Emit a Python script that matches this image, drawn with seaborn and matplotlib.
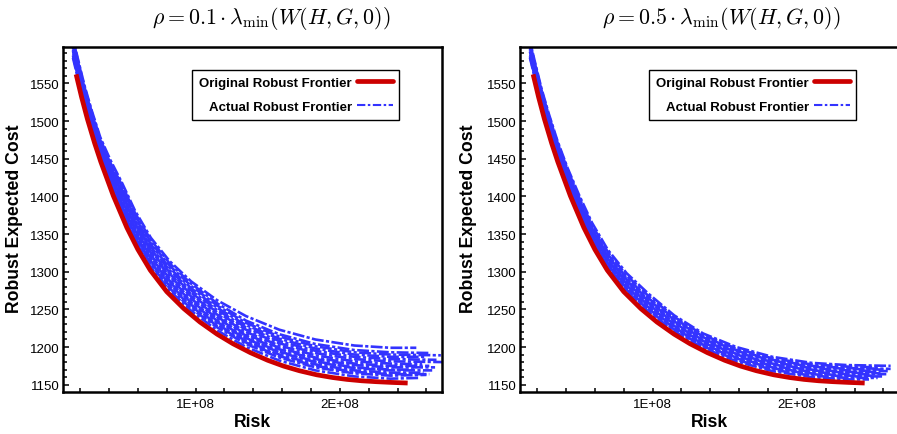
import numpy as np
import pandas as pd
import matplotlib
matplotlib.use("Agg")
import matplotlib.pyplot as plt
from matplotlib.lines import Line2D
from matplotlib.ticker import MultipleLocator, FixedLocator, FixedFormatter
import seaborn as sns

# ---------------- data (risk in units of 1E+08) ----------------
titles = [r"$\rho = 0.1 \cdot \lambda_{\min}(W(H,G,0))$",
          r"$\rho = 0.5 \cdot \lambda_{\min}(W(H,G,0))$"]
x_label = "Risk"
y_label = "Robust Expected Cost"
legend_labels = ["Original Robust Frontier", "Actual Robust Frontier"]
xtick_values = [1.0, 2.0]
xtick_labels = ["1E+08", "2E+08"]
ytick_values = [1150, 1200, 1250, 1300, 1350, 1400, 1450, 1500, 1550]

# original robust frontier (same in both panels)
red_risk = [0.172, 0.21, 0.25, 0.30, 0.343, 0.43, 0.524, 0.60, 0.686, 0.80, 0.918,
            1.03, 1.149, 1.26, 1.38, 1.50, 1.61, 1.72, 1.84, 1.95, 2.05, 2.15,
            2.25, 2.36, 2.47]
red_cost = [1562, 1531.6, 1502.8, 1470.8, 1445.9, 1400.7, 1358.4, 1329.5, 1302,
            1273.5, 1251.1, 1233.2, 1217.1, 1204.3, 1192.5, 1182.4, 1174.7, 1168.5,
            1163.1, 1159.5, 1157, 1155.2, 1154, 1153, 1152.2]

# actual robust frontiers: common risk grid + individual end points
blue_grid = [0.15, 0.19, 0.23, 0.28, 0.34, 0.41, 0.49, 0.58, 0.69, 0.82, 0.97,
             1.15, 1.35, 1.58, 1.83, 2.10, 2.35]

blue_cost_01 = [
    [1584, 1552, 1521, 1488, 1452, 1416, 1379, 1342, 1306, 1275, 1248, 1222, 1200, 1182, 1169, 1161, 1158],
    [1587, 1555, 1524, 1491, 1455, 1419, 1382, 1345, 1309, 1278, 1251, 1226, 1204, 1186, 1173, 1165, 1162],
    [1589, 1557, 1526, 1493, 1457, 1421, 1385, 1348, 1312, 1281, 1254, 1228, 1206, 1188, 1175, 1167, 1164],
    [1591, 1559, 1528, 1495, 1459, 1423, 1387, 1350, 1314, 1283, 1256, 1230, 1208, 1190, 1177, 1169, 1166],
    [1593, 1561, 1530, 1497, 1461, 1426, 1390, 1353, 1317, 1286, 1259, 1233, 1211, 1193, 1180, 1172, 1169],
    [1595, 1563, 1532, 1499, 1463, 1428, 1392, 1355, 1319, 1288, 1261, 1235, 1212, 1194, 1181, 1173, 1170],
    [1597, 1565, 1534, 1501, 1465, 1430, 1395, 1358, 1322, 1291, 1264, 1238, 1215, 1197, 1184, 1176, 1173],
    [1599, 1567, 1536, 1503, 1467, 1432, 1398, 1361, 1325, 1294, 1267, 1240, 1217, 1199, 1186, 1178, 1175],
    [1601, 1569, 1538, 1505, 1469, 1435, 1401, 1364, 1328, 1297, 1270, 1243, 1220, 1202, 1189, 1181, 1178],
    [1604, 1572, 1541, 1508, 1472, 1438, 1403, 1366, 1330, 1299, 1272, 1246, 1223, 1205, 1192, 1184, 1181],
    [1606, 1574, 1543, 1510, 1474, 1440, 1406, 1369, 1333, 1302, 1275, 1249, 1226, 1208, 1195, 1187, 1184],
    [1602, 1570, 1539, 1506, 1470, 1440, 1409, 1372, 1336, 1305, 1278, 1252, 1229, 1211, 1198, 1190, 1187],
    [1608, 1576, 1545, 1512, 1476, 1444, 1412, 1375, 1339, 1308, 1281, 1255, 1232, 1214, 1201, 1193, 1190],
    [1605, 1573, 1542, 1509, 1473, 1444, 1415, 1378, 1342, 1311, 1284, 1258, 1235, 1217, 1204, 1196, 1193],
    [1610, 1578, 1547, 1514, 1478, 1448, 1418, 1381, 1345, 1314, 1287, 1262, 1241, 1223, 1210, 1202, 1199],
]
blue_end_risk_01 = [2.55, 2.60, 2.62, 2.58, 2.64, 2.52, 2.66, 2.62, 2.57, 2.72, 2.67, 2.60, 2.70, 2.63, 2.53]
blue_end_cost_01 = [1159, 1163, 1164, 1166, 1169, 1170, 1173, 1175, 1177, 1180, 1183, 1187, 1189, 1192, 1199]

blue_cost_05 = [
    [1584, 1552, 1521, 1488, 1452, 1415, 1378, 1341, 1305, 1274, 1247, 1221, 1199, 1181, 1168, 1160, 1157],
    [1586, 1554, 1523, 1490, 1454, 1417, 1380, 1343, 1307, 1276, 1249, 1223, 1201, 1183, 1170, 1162, 1159],
    [1588, 1556, 1525, 1492, 1456, 1419, 1382, 1345, 1309, 1278, 1251, 1225, 1203, 1185, 1172, 1164, 1161],
    [1590, 1558, 1527, 1494, 1458, 1421, 1384, 1347, 1311, 1280, 1253, 1226, 1204, 1186, 1173, 1165, 1162],
    [1592, 1560, 1529, 1496, 1460, 1423, 1386, 1349, 1313, 1282, 1255, 1228, 1206, 1188, 1175, 1167, 1164],
    [1594, 1562, 1531, 1498, 1462, 1425, 1388, 1351, 1315, 1284, 1257, 1230, 1208, 1190, 1177, 1169, 1166],
    [1596, 1564, 1533, 1500, 1464, 1427, 1390, 1353, 1317, 1286, 1259, 1232, 1209, 1191, 1178, 1170, 1167],
    [1598, 1566, 1535, 1502, 1466, 1429, 1392, 1355, 1319, 1288, 1261, 1234, 1211, 1193, 1180, 1172, 1169],
    [1600, 1568, 1537, 1504, 1468, 1431, 1394, 1357, 1321, 1290, 1263, 1236, 1213, 1195, 1182, 1174, 1171],
    [1602, 1570, 1539, 1506, 1470, 1433, 1396, 1359, 1323, 1292, 1265, 1238, 1214, 1196, 1183, 1175, 1172],
    [1604, 1572, 1541, 1508, 1472, 1436, 1399, 1362, 1326, 1295, 1268, 1240, 1216, 1198, 1185, 1177, 1174],
    [1606, 1574, 1543, 1510, 1474, 1438, 1402, 1365, 1329, 1298, 1271, 1242, 1218, 1200, 1187, 1179, 1176],
]
blue_end_risk_05 = [2.50, 2.56, 2.60, 2.52, 2.62, 2.58, 2.55, 2.63, 2.60, 2.65, 2.57, 2.65]
blue_end_cost_05 = [1157, 1159, 1161, 1162, 1164, 1165, 1167, 1168, 1170, 1171, 1173, 1175]

# ---------------- style ----------------
RED = "#cc0000"
BLUE = "#3333ff"
DASH_SEQ = (4.5, 0.9, 1.2, 0.9)
LEGEND_DASH = (0, (4.0, 1.2, 1.2, 1.2))

sns.set_theme(style="white")
plt.rcParams["font.family"] = ["Liberation Sans", "DejaVu Sans"]
plt.rcParams["mathtext.fontset"] = "cm"
for key in ["text.color", "axes.labelcolor", "xtick.color", "ytick.color"]:
    plt.rcParams[key] = "black"

fig = plt.figure(figsize=(8.97, 4.35), dpi=100)
W, H = 897.0, 435.0
ax_w = 379 / W
ax_h = 345 / H
ax_b = (H - 393) / H
axes = [fig.add_axes([63 / W, ax_b, ax_w, ax_h]),
        fig.add_axes([520 / W, ax_b, ax_w, ax_h])]

red_df = pd.DataFrame({"risk": red_risk, "cost": red_cost})

panels = [(blue_cost_01, blue_end_risk_01, blue_end_cost_01),
          (blue_cost_05, blue_end_risk_05, blue_end_cost_05)]
title_x = [0.549, 0.530]
ylabel_x = [-0.106, -0.113]

for i, ax in enumerate(axes):
    costs, end_r, end_c = panels[i]
    rows = []
    for k, curve in enumerate(costs):
        for r, c in zip(blue_grid, curve):
            rows.append((k, r, c))
        rows.append((k, end_r[k], end_c[k]))
    bdf = pd.DataFrame(rows, columns=["curve", "risk", "cost"])

    sns.lineplot(data=bdf, x="risk", y="cost", units="curve", estimator=None,
                 sort=False, color=BLUE, lw=1.9, linestyle=(0, DASH_SEQ),
                 legend=False, ax=ax, zorder=2)
    # stagger the dash phase of each curve so the pattern does not align
    for j, line in enumerate(ax.get_lines()):
        line.set_linestyle(((j * 2.3) % 7.5, DASH_SEQ))

    sns.lineplot(data=red_df, x="risk", y="cost", estimator=None, sort=False,
                 color=RED, lw=3.4, legend=False, ax=ax, zorder=3,
                 solid_capstyle="butt")

    ax.set_xlim(0.081, 2.708)
    ax.set_ylim(1140.3, 1598.3)

    ax.xaxis.set_major_locator(FixedLocator(xtick_values))
    ax.xaxis.set_major_formatter(FixedFormatter(xtick_labels))
    ax.xaxis.set_minor_locator(MultipleLocator(0.2))
    ax.yaxis.set_major_locator(FixedLocator(ytick_values))
    ax.yaxis.set_minor_locator(MultipleLocator(10))

    ax.tick_params(axis="both", which="both", direction="in", top=False,
                   right=False, left=True, bottom=True, colors="black",
                   labelsize=9.5, width=1.1)
    ax.tick_params(axis="y", which="major", length=4.2, pad=2.7)
    ax.tick_params(axis="y", which="minor", length=3.0)
    ax.tick_params(axis="x", which="major", length=3.2, pad=4)
    ax.tick_params(axis="x", which="minor", length=3.2)

    for sp in ax.spines.values():
        sp.set_visible(True)
        sp.set_color("black")
        sp.set_linewidth(1.8)

    ax.set_xlabel(x_label, fontsize=12.7, fontweight="bold", color="black")
    ax.set_ylabel(y_label, fontsize=12.7, fontweight="bold", color="black")
    ax.xaxis.set_label_coords(0.501, -0.062)
    ax.yaxis.set_label_coords(ylabel_x[i], 0.505)

    ax.text(title_x[i], 1.085, titles[i], transform=ax.transAxes,
            ha="center", va="center", fontsize=15.8, color="black")

    handles = [Line2D([], [], color=RED, lw=3.4),
               Line2D([], [], color=BLUE, lw=1.5, linestyle=LEGEND_DASH)]
    leg = ax.legend(handles, legend_labels, loc="upper right",
                    bbox_to_anchor=(0.887, 0.933), markerfirst=False,
                    prop={"weight": "bold", "size": 9.5}, frameon=True,
                    fancybox=False, framealpha=1, edgecolor="black",
                    handlelength=2.7, handletextpad=0.4, labelspacing=0.9,
                    borderpad=0.5, borderaxespad=0)
    leg.get_frame().set_linewidth(1.0)
    for t in leg.get_texts():
        t.set_color("black")

fig.savefig("out.png", dpi=100)
